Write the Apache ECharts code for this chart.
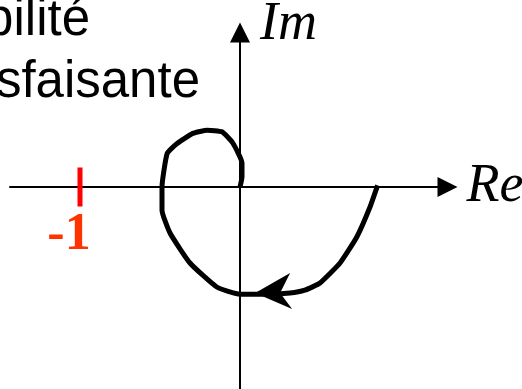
<!DOCTYPE html>
<html>
<head>
<meta charset="utf-8">
<script src="https://cdn.jsdelivr.net/npm/echarts@6/dist/echarts.min.js"></script>
<style>
  html, body { margin: 0; padding: 0; background: #fff; }
  #chart { width: 522px; height: 389px; }
</style>
</head>
<body>
<div id="chart"></div>
<script>
// Nyquist locus, in units where the critical point -1 sits on the real axis
const curveRe = [0.86, 0.8125, 0.73, 0.625, 0.5, 0.405, 0.3125, 0.155, 0, -0.145, -0.3125, -0.4375, -0.4875, -0.4875, -0.455, -0.395, -0.295, -0.205, -0.1125, -0.045, 0.0125, 0.0125, 0]
const curveIm = [0.01, -0.125, -0.3125, -0.475, -0.6, -0.645, -0.6625, -0.67, -0.67, -0.625, -0.475, -0.2875, -0.145, 0, 0.21, 0.27, 0.335, 0.355, 0.345, 0.275, 0.15, 0.0625, 0]
const arrowPoint = [0.21, -0.65]
const criticalPoint = [-1, 0]
const criticalLabel = '-1'
const axisNames = ['Re', 'Im']
const noteLines = ['bilité', 'sfaisante']

// layout (pixels)
const ORIGIN_X = 240
const ORIGIN_Y = 187
const UNIT = 160
const GRID = { left: 10, right: 74.5, top: 32.5, bottom: 0 }
const W = 522
const H = 389

const xMin = (GRID.left - ORIGIN_X) / UNIT
const xMax = (W - GRID.right - ORIGIN_X) / UNIT
const yMax = (ORIGIN_Y - GRID.top) / UNIT
const yMin = (ORIGIN_Y - (H - GRID.bottom)) / UNIT

const curveData = curveRe.map((re, i) => [re, curveIm[i]])

const nameStyle = {
  fontFamily: 'Liberation Serif',
  fontStyle: 'italic',
  fontSize: 54,
  color: '#000',
}

const axisLine = {
  onZero: true,
  symbol: ['none', 'triangle'],
  symbolSize: [20, 20],
  lineStyle: { color: '#000', width: 2 },
}

const option = {
  animation: false,
  backgroundColor: '#fff',
  grid: {
    left: GRID.left,
    right: GRID.right,
    top: GRID.top,
    bottom: GRID.bottom,
    containLabel: false,
    outerBoundsMode: 'none',
  },
  xAxis: {
    type: 'value',
    min: xMin,
    max: xMax,
    name: axisNames[0],
    nameLocation: 'end',
    nameGap: 19,
    nameTextStyle: nameStyle,
    axisLine: axisLine,
    axisTick: { show: false },
    axisLabel: { show: false },
    splitLine: { show: false },
  },
  yAxis: {
    type: 'value',
    min: yMin,
    max: yMax,
    name: axisNames[1],
    nameLocation: 'end',
    nameGap: 8,
    nameTextStyle: Object.assign({}, nameStyle, { align: 'left', verticalAlign: 'middle', padding: [0, 0, 0, 20] }),
    axisLine: axisLine,
    axisTick: { show: false },
    axisLabel: { show: false },
    splitLine: { show: false },
  },
  graphic: noteLines.map((line, i) => ({
    type: 'text',
    x: i === 0 ? 90 : 200,
    y: i === 0 ? 46 : 108,
    style: {
      text: line,
      fill: '#000',
      font: '51px "Liberation Sans"',
      align: 'right',
      verticalAlign: 'bottom',
    },
  })),
  series: [
    {
      type: 'line',
      data: curveData,
      smooth: 0.15,
      showSymbol: false,
      lineStyle: { color: '#000', width: 5, cap: 'butt', join: 'round' },
      z: 3,
    },
    {
      type: 'scatter',
      data: [arrowPoint],
      symbol: 'path://M0,20 L35,0 L25,20 L37,36 Z',
      symbolSize: [37, 36],
      itemStyle: { color: '#000', opacity: 1 },
      z: 4,
    },
    {
      type: 'scatter',
      data: [criticalPoint],
      symbol: 'rect',
      symbolSize: [5, 39],
      itemStyle: { color: '#ff0000', opacity: 1 },
      label: {
        show: true,
        formatter: criticalLabel,
        position: 'bottom',
        distance: 3,
        offset: [-11, 0],
        fontFamily: 'Liberation Serif',
        fontWeight: 'bold',
        fontSize: 52,
        color: '#ff3300',
      },
      z: 4,
    },
  ],
}

const chart = echarts.init(document.getElementById('chart'))
chart.setOption(option)
</script>
</body>
</html>
